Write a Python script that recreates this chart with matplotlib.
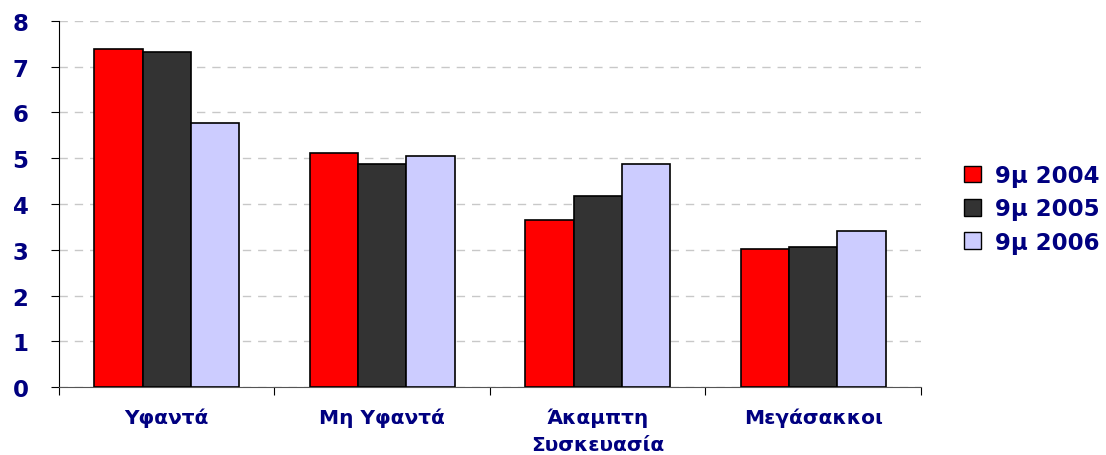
import numpy as np
import matplotlib.pyplot as plt
from matplotlib.patches import Patch

categories = ['Υφαντά', 'Μη Υφαντά', 'Άκαμπτη\nΣυσκευασία', 'Μεγάσακκοι']
series = ['9μ 2004', '9μ 2005', '9μ 2006']
v2004 = [7.39, 5.11, 3.65, 3.02]
v2005 = [7.33, 4.87, 4.18, 3.05]
v2006 = [5.77, 5.05, 4.87, 3.40]
colors = ['#ff0000', '#333333', '#ccccff']

navy = '#000080'
plt.rcParams['font.family'] = 'DejaVu Sans'
plt.rcParams['font.weight'] = 'bold'

fig = plt.figure(figsize=(11.06, 4.56), dpi=100)
ax = fig.add_axes([0.0533, 0.149, 0.7794, 0.803])

x = np.arange(len(categories))
w = 0.2245
for j, vals in enumerate([v2004, v2005, v2006]):
    ax.bar(x + (j - 1) * w, vals, w, color=colors[j], edgecolor='black',
           linewidth=1.2, zorder=3)

ax.set_xlim(-0.5, len(categories) - 0.5)
ax.set_ylim(0, 8)
ax.set_yticks(range(0, 9))
ax.yaxis.grid(True, color='#c8c8c8', linestyle=(0, (6, 5)), linewidth=1, zorder=0)

ax.spines['top'].set_visible(False)
ax.spines['right'].set_visible(False)
ax.spines['left'].set_color('black')
ax.spines['bottom'].set_color('#555555')

ax.set_xticks(np.arange(-0.5, len(categories), 1.0))
ax.set_xticklabels([])
ax.tick_params(axis='x', length=6, direction='out', color='black')
ax.tick_params(axis='y', length=6, direction='out', labelsize=16.5,
               labelcolor=navy, pad=16)
for c, lab in zip(x, categories):
    ax.text(c, -0.45, lab, ha='center', va='top', fontsize=14.5,
            color=navy, fontweight='bold', linespacing=1.55)

handles = [Patch(facecolor=colors[j], edgecolor='black', label=series[j])
           for j in range(3)]
leg = fig.legend(handles=handles, loc='center left', bbox_to_anchor=(0.853, 0.54),
                 frameon=False, fontsize=16.5, handlelength=0.75, handleheight=0.75,
                 handletextpad=0.6, labelspacing=0.45)
for t in leg.get_texts():
    t.set_color(navy)

fig.savefig('out.png', dpi=100)
